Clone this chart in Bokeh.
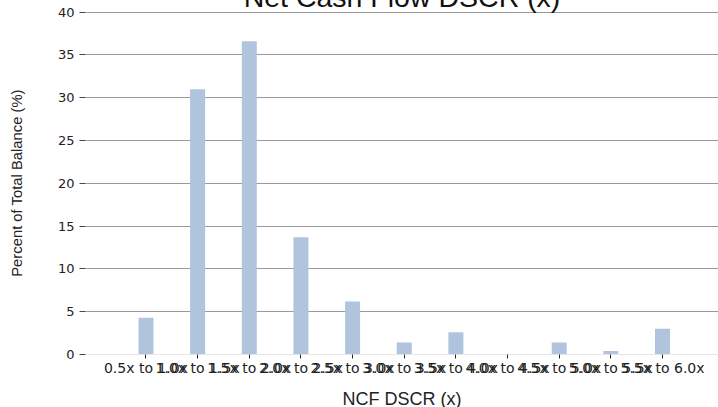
from bokeh.plotting import figure
from bokeh.models import Range1d, FixedTicker, GlobalInlineStyleSheet
from bokeh.embed import file_html
from bokeh.resources import INLINE

categories = ["0.5x to 1.0x", "1.0x to 1.5x", "1.5x to 2.0x", "2.0x to 2.5x",
              "2.5x to 3.0x", "3.0x to 3.5x", "3.5x to 4.0x", "4.0x to 4.5x",
              "4.5x to 5.0x", "5.0x to 5.5x", "5.5x to 6.0x"]
values = [4.3, 31.0, 36.6, 13.7, 6.2, 1.4, 2.6, 0.0, 1.4, 0.4, 3.0]
y_ticks = [0, 5, 10, 15, 20, 25, 30, 35, 40]
title_text = "Net Cash Flow DSCR (x)"
x_title = "NCF DSCR (x)"
y_title = "Percent of Total Balance (%)"

positions = list(range(len(categories)))

SHIFT = 40  # part of the canvas above the window (the title is cut off there)

p = figure(width=718, height=457,
           x_range=Range1d(-1.171, 11.084), y_range=Range1d(0, 40.08),
           output_backend="svg", toolbar_location=None,
           min_border_top=SHIFT + 11, min_border_bottom=63,
           min_border_left=85, min_border_right=0)
p.styles = {"margin-top": f"-{SHIFT}px"}
p.stylesheets = [GlobalInlineStyleSheet(css="html, body { overflow: hidden !important; }")]
p.outline_line_color = None
p.background_fill_color = "white"
p.border_fill_color = "white"

p.title.text = title_text
p.title.align = "center"
p.title.offset = 2
p.title.standoff = -2
p.title.text_font = "Liberation Sans"
p.title.text_font_size = "28.5px"
p.title.text_font_style = "normal"
p.title.text_color = "#111111"

p.vbar(x=positions, top=values, width=0.29, fill_color="#b0c4de", line_color=None)

p.xgrid.visible = False
p.ygrid.ticker = FixedTicker(ticks=[t for t in y_ticks if t > 0])
p.ygrid.grid_line_color = "#9a9a9a"
p.ygrid.grid_line_width = 1

ya = p.yaxis[0]
ya.ticker = FixedTicker(ticks=y_ticks)
ya.axis_line_color = None
ya.major_tick_out = 6
ya.major_tick_in = 0
ya.minor_tick_line_color = None
ya.major_tick_line_color = "#444444"
ya.major_label_text_font = "DejaVu Sans"
ya.major_label_text_font_size = "13px"
ya.major_label_text_color = "#222222"
ya.major_label_standoff = 5
ya.axis_label = y_title
ya.axis_label_text_font = "Liberation Sans"
ya.axis_label_text_font_size = "14.8px"
ya.axis_label_text_font_style = "normal"
ya.axis_label_text_color = "#222222"
ya.axis_label_standoff = 30

xa = p.xaxis[0]
xa.ticker = FixedTicker(ticks=positions)
xa.major_label_overrides = {i: c for i, c in zip(positions, categories)}
xa.axis_line_color = "#e6e6e6"
xa.major_tick_out = 4
xa.major_tick_in = 0
xa.minor_tick_line_color = None
xa.major_tick_line_color = "#222222"
xa.major_label_text_font = "DejaVu Sans"
xa.major_label_text_font_size = "14px"
xa.major_label_text_color = "#222222"
xa.major_label_standoff = 1
xa.axis_label = x_title
xa.axis_label_text_font = "Liberation Sans"
xa.axis_label_text_font_size = "18px"
xa.axis_label_text_font_style = "normal"
xa.axis_label_text_color = "#222222"
xa.axis_label_standoff = 10

open("out.html", "w").write(file_html(p, INLINE))
